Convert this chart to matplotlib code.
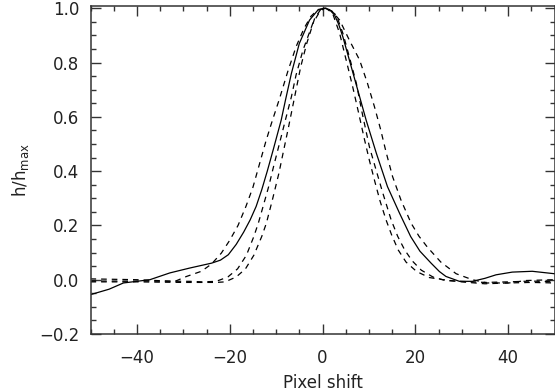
import matplotlib
matplotlib.use("Agg")
import matplotlib.pyplot as plt
from matplotlib.ticker import MultipleLocator

# solid profile
solid_x = [-50, -46, -42.9, -37.2, -32.9, -28.6, -23.9, -22.0, -20.3, -18.6, -17.0, -15.6,
           -14.3, -13.1, -11.9, -10.6, -8.9, -8.0, -6.7, -5.0, -2.8, -1.0, 0.5, 1.5, 2.6,
           3.5, 4.4, 6.2, 8.0, 9.4, 11.6, 14.0, 16.6, 19.0, 21.0, 23.4, 25.2, 26.6, 29.5,
           32.3, 35.0, 37.4, 40.9, 45.2, 50]
solid_y = [-0.055, -0.035, -0.012, 0.0, 0.025, 0.043, 0.061, 0.072, 0.092, 0.13, 0.175, 0.22,
           0.27, 0.331, 0.40, 0.48, 0.588, 0.66, 0.76, 0.87, 0.956, 0.993, 1.0, 0.995, 0.975,
           0.94, 0.894, 0.784, 0.674, 0.588, 0.466, 0.343, 0.245, 0.159, 0.105, 0.061, 0.03,
           0.012, -0.006, -0.006, 0.005, 0.018, 0.028, 0.031, 0.022]

# widest dashed profile
d1_x = [-50, -40, -31.8, -29.3, -26.1, -23.9, -21.8, -20.0, -18.2, -16.5, -15.0, -13.6,
        -12.2, -11.0, -9.3, -7.5, -5.7, -4.0, -2.5, -1.0, 0.5, 2.0, 3.7, 5.8, 8.0, 9.7,
        11.2, 12.5, 13.7, 15.1, 16.9, 19.1, 20.8, 22.6, 25.5, 28.8, 32.3, 35.5, 40.2,
        43.8, 50]
d1_y = [0.003, 0.0, -0.006, 0.012, 0.031, 0.058, 0.098, 0.145, 0.2, 0.27, 0.34, 0.425,
        0.51, 0.576, 0.665, 0.766, 0.858, 0.925, 0.97, 0.995, 1.0, 0.99, 0.956, 0.882,
        0.809, 0.723, 0.637, 0.555, 0.47, 0.38, 0.294, 0.208, 0.16, 0.12, 0.065, 0.022,
        0.0, -0.012, -0.012, -0.003, 0.0]

# middle dashed profile
d2_x = [-50, -40, -28.6, -25.8, -22.9, -20.4, -18.3, -16.4, -14.8, -13.8, -12.8, -11.6,
        -10.5, -9.3, -8.0, -6.7, -5.7, -4.2, -2.1, -0.5, 0.5, 1.5, 3.0, 4.4, 5.8, 7.3, 8.6,
        10.1, 11.55, 13.0, 14.8, 16.2, 17.7, 19.3, 21.3, 23.8, 26.5, 29.5, 35.0, 40.0,
        45.0, 50]
d2_y = [-0.005, -0.005, -0.006, -0.008, -0.006, 0.01, 0.04, 0.09, 0.159, 0.21, 0.27, 0.343,
        0.42, 0.5, 0.588, 0.674, 0.754, 0.846, 0.944, 0.99, 1.0, 0.995, 0.974, 0.907, 0.82,
        0.723, 0.61, 0.49, 0.404, 0.319, 0.22, 0.16, 0.11, 0.07, 0.035, 0.01, -0.003,
        -0.006, -0.01, -0.008, -0.005, -0.008]

# narrowest dashed profile
d3_x = [-50, -40, -30, -22.9, -21.0, -18.6, -16.6, -14.8, -13.1, -12.1, -10.8, -9.4, -8.5,
        -7.3, -6.0, -4.7, -3.4, -1.7, -0.3, 0.8, 2.2, 3.7, 5.1, 6.5, 7.8, 9.0, 10.1, 11.3,
        12.4, 13.7, 14.9, 16.3, 18.0, 20.3, 23.0, 26.0, 30.0, 35.0, 40.0, 45.0, 50]
d3_y = [-0.008, -0.008, -0.01, -0.01, -0.008, 0.01, 0.04, 0.09, 0.159, 0.208, 0.294, 0.392,
        0.466, 0.564, 0.674, 0.784, 0.87, 0.962, 0.998, 1.0, 0.98, 0.907, 0.809, 0.711,
        0.613, 0.52, 0.44, 0.36, 0.29, 0.22, 0.165, 0.11, 0.065, 0.03, 0.008, 0.0, -0.008,
        -0.015, -0.012, -0.01, -0.012]

fig = plt.figure(figsize=(5.55, 3.92), dpi=100)
ax = fig.add_axes([90.5 / 555, 1 - 334 / 392, 464 / 555, (334 - 5.5) / 392])

dash = (0, (4.5, 4))
ax.plot(solid_x, solid_y, color="black", lw=0.9)
ax.plot(d1_x, d1_y, color="black", lw=0.9, linestyle=dash)
ax.plot(d2_x, d2_y, color="black", lw=0.9, linestyle=dash)
ax.plot(d3_x, d3_y, color="black", lw=0.9, linestyle=dash)

ax.set_xlim(-50, 50)
ax.set_ylim(-0.2, 1.01)
ax.xaxis.set_minor_locator(MultipleLocator(5))
ax.yaxis.set_minor_locator(MultipleLocator(0.05))
ax.set_xticks([-40, -20, 0, 20, 40])
ax.set_xticklabels(["\u221240", "\u221220", "0", "20", "40"])
ax.set_yticks([-0.2, 0.0, 0.2, 0.4, 0.6, 0.8, 1.0])
ax.set_yticklabels(["\u22120.2", "0.0", "0.2", "0.4", "0.6", "0.8", "1.0"])

ax.tick_params(which="both", direction="in", top=True, right=True, color="#333333",
               labelsize=12, labelcolor="#222222")
ax.tick_params(which="major", length=7, width=1)
ax.tick_params(which="minor", length=3.5, width=1)
ax.tick_params(axis="x", which="major", pad=11)
ax.tick_params(axis="y", which="major", pad=8)
for s in ax.spines.values():
    s.set_linewidth(1.1)
    s.set_color("#333333")

ax.set_xlabel("Pixel shift", fontsize=12, color="#222222", labelpad=5)
ax.set_ylabel(r"h/h$_{\rm max}$", fontsize=12, color="#222222", labelpad=6)

fig.savefig("out.png", dpi=100)
